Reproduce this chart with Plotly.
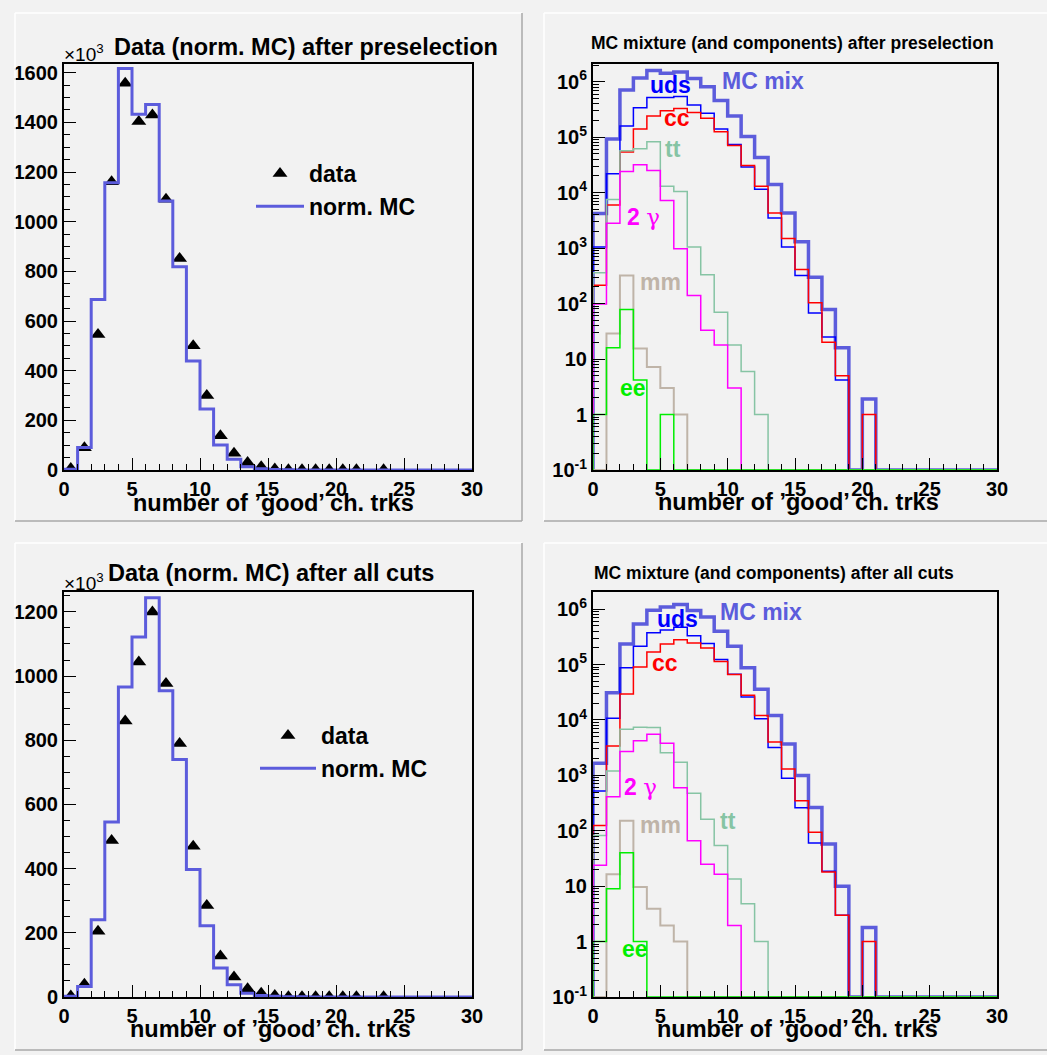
import plotly.graph_objects as go

W, H = 1047, 1055

# ---------------- data ----------------
edges = list(range(0, 31))
centers = [b + 0.5 for b in range(30)]
x_ticks = [0, 5, 10, 15, 20, 25, 30]

# top-left: data vs normalised MC after preselection (units of 10^3)
mc_pre = [3, 91, 687, 1157, 1617, 1433, 1472, 1083, 819, 439, 246, 101, 43, 13, 5,
          2, 1, 0.5, 0.3, 0.2, 0.1, 0.1, 0, 0, 0, 0, 0, 0, 0, 0]
data_pre = [6, 90, 546, 1161, 1557, 1403, 1430, 1090, 852, 500, 300, 138, 67, 30, 13,
            4, 1, 1, 1, 1, 1, 1, None, 1, None, None, None, None, None, None]

# bottom-left: after all cuts (units of 10^3)
mc_all = [2, 33, 241, 545, 966, 1122, 1244, 954, 740, 397, 222, 90, 38, 12, 5,
          2, 1, 0.5, 0.2, 0.1, 0, 0.1, 0, 0, 0, 0, 0, 0, 0, 0]
data_all = [3, 40, 205, 488, 860, 1044, 1200, 977, 790, 470, 285, 128, 62, 26, 12,
            5, 1, 1, 1, 1, 1, 1, None, 1, None, None, None, None, None, None]

# top-right: MC mixture and components after preselection
mix_pre = [4.2e3, 9.3e4, 7.1e5, 1.17e6, 1.6e6, 1.43e6, 1.5e6, 1.15e6, 8.1e5, 4.6e5,
           2.4e5, 1.03e5, 4.3e4, 1.4e4, 4.3e3, 1.3e3, 300, 78, 16, 0,
           1.9, 0, 0, 0, 0, 0, 0, 0, 0, 0]
uds_pre = [1.05e3, 2.2e4, 1.6e5, 3.4e5, 5.2e5, 5.2e5, 5.4e5, 3.8e5, 2.7e5, 1.4e5,
           7.4e4, 2.9e4, 1.15e4, 3.5e3, 1.05e3, 320, 68, 25, 4.2, 0,
           0, 0, 0, 0, 0, 0, 0, 0, 0, 0]
cc_pre = [215, 6e3, 5.4e4, 1.4e5, 2.4e5, 3e5, 3.3e5, 2.8e5, 2.2e5, 1.26e5,
          7.1e4, 3.1e4, 1.3e4, 4.3e3, 1.5e3, 410, 104, 20, 5, 0,
          1, 0, 0, 0, 0, 0, 0, 0, 0, 0]
tt_pre = [360, 7.5e3, 5.7e4, 6.2e4, 8.3e4, 1.3e4, 1.05e4, 1.05e3, 330, 70,
          18, 6, 1, 0, 0, 0, 0, 0, 0, 0, 0, 0, 0, 0, 0, 0, 0, 0, 0, 0]
gg_pre = [98, 2.8e3, 2.4e4, 3.2e4, 2.5e4, 7.2e3, 980, 140, 33, 18,
          3, 0, 0, 0, 0, 0, 0, 0, 0, 0, 0, 0, 0, 0, 0, 0, 0, 0, 0, 0]
mm_pre = [0, 29, 320, 15.5, 7.2, 3, 1, 0, 0, 0, 0, 0, 0, 0, 0,
          0, 0, 0, 0, 0, 0, 0, 0, 0, 0, 0, 0, 0, 0, 0]
ee_pre = [1, 16, 78, 4.2, 0, 1, 0, 0, 0, 0, 0, 0, 0, 0, 0,
          0, 0, 0, 0, 0, 0, 0, 0, 0, 0, 0, 0, 0, 0, 0]

# bottom-right: after all cuts
mix_all = [1.65e3, 3.1e4, 2.35e5, 5.4e5, 9.6e5, 1.1e6, 1.22e6, 9.5e5, 7.2e5, 4e5,
           2.15e5, 8.8e4, 3.6e4, 1.2e4, 3.7e3, 1e3, 262, 58, 10, 0,
           1.8, 0, 0, 0, 0, 0, 0, 0, 0, 0]
uds_all = [520, 1.08e4, 8.8e4, 2.15e5, 3.75e5, 4.2e5, 4.7e5, 3.3e5, 2.4e5, 1.24e5,
           6.7e4, 2.6e4, 1.05e4, 3.2e3, 890, 260, 60, 18.6, 3, 0,
           0, 0, 0, 0, 0, 0, 0, 0, 0, 0]
cc_all = [125, 3.4e3, 2.95e4, 9e4, 1.68e5, 2.35e5, 2.8e5, 2.45e5, 2e5, 1.14e5,
          6.6e4, 2.8e4, 1.2e4, 4e3, 1.3e3, 350, 94, 18, 3, 0,
          1, 0, 0, 0, 0, 0, 0, 0, 0, 0]
tt_all = [82, 1.2e3, 6.8e3, 7.4e3, 7.35e3, 2.55e3, 1.72e3, 475, 162, 54,
          13.5, 4.8, 1, 0, 0, 0, 0, 0, 0, 0, 0, 0, 0, 0, 0, 0, 0, 0, 0, 0]
gg_all = [24, 410, 2.7e3, 4.2e3, 5.5e3, 3.8e3, 600, 66, 25, 16.5,
          1.95, 0, 0, 0, 0, 0, 0, 0, 0, 0, 0, 0, 0, 0, 0, 0, 0, 0, 0, 0]
mm_all = [0, 16.5, 152, 9.7, 3.9, 1.95, 1, 0, 0, 0, 0, 0, 0, 0, 0,
          0, 0, 0, 0, 0, 0, 0, 0, 0, 0, 0, 0, 0, 0, 0]
ee_all = [1, 9, 40, 1, 0, 0, 0, 0, 0, 0, 0, 0, 0, 0, 0,
          0, 0, 0, 0, 0, 0, 0, 0, 0, 0, 0, 0, 0, 0, 0]

# ---------------- style ----------------
FONT = "Liberation Sans"
C_MIX = "#5c5cdc"
C_UDS = "#0000ff"
C_CC = "#ff0000"
C_TT = "#86c4a4"
C_GG = "#ff00ff"
C_MM = "#bfb4a8"
C_EE = "#00ee00"
BG = "#f2f2f2"


def px(x):
    return x / W


def py(y):
    return 1 - y / H


def hist_xy(values, floor):
    xs = [edges[0]] + edges
    ys = [floor] + [v if v > 0 else floor for v in values] + [floor]
    return xs, ys


fig = go.Figure()


def add_hist(values, color, width, xa, ya, floor, name=None, legend=None):
    xs, ys = hist_xy(values, floor)
    fig.add_trace(go.Scatter(
        x=xs, y=ys, mode="lines", line=dict(color=color, width=width, shape="hv"),
        xaxis=xa, yaxis=ya, name=name or "", showlegend=legend is not None,
        legend=legend or "legend", hoverinfo="skip"))


def add_data(values, xa, ya, legend):
    fig.add_trace(go.Scatter(
        x=centers, y=values, mode="markers",
        marker=dict(symbol="triangle-up", size=13, color="black"),
        xaxis=xa, yaxis=ya, name="data", showlegend=True, legend=legend,
        cliponaxis=True))


# left panels (linear)
add_data(data_pre, "x", "y", "legend")
add_hist(mc_pre, C_MIX, 3, "x", "y", 0, name="norm. MC", legend="legend")
add_data(data_all, "x3", "y3", "legend2")
add_hist(mc_all, C_MIX, 3, "x3", "y3", 0, name="norm. MC", legend="legend2")

# right panels (log)
LOGFLOOR = 0.1
for vals, col, wd in [(mix_pre, C_MIX, 3.5), (uds_pre, C_UDS, 1.5), (cc_pre, C_CC, 1.5),
                      (tt_pre, C_TT, 1.5), (gg_pre, C_GG, 1.5), (mm_pre, C_MM, 2),
                      (ee_pre, C_EE, 1.5)]:
    add_hist(vals, col, wd, "x2", "y2", LOGFLOOR)
for vals, col, wd in [(mix_all, C_MIX, 3.5), (uds_all, C_UDS, 1.5), (cc_all, C_CC, 1.5),
                      (tt_all, C_TT, 1.5), (gg_all, C_GG, 1.5), (mm_all, C_MM, 2),
                      (ee_all, C_EE, 1.5)]:
    add_hist(vals, col, wd, "x4", "y4", LOGFLOOR)

# ---------------- axes ----------------
tickfont = dict(family=FONT, size=20, color="black", weight="bold")


def xaxis(dom, anchor):
    return dict(domain=dom, anchor=anchor, range=[0, 30], tickmode="array",
                tickvals=x_ticks, ticks="inside", ticklen=12, tickwidth=1,
                tickcolor="black", automargin=False,
                minor=dict(dtick=1, tick0=0, ticks="inside", ticklen=6,
                           tickwidth=1, tickcolor="black", showgrid=False),
                showline=True, mirror=True, linecolor="black", linewidth=2,
                showgrid=False, zeroline=False, tickfont=tickfont)


def ylin(dom, anchor, top):
    return dict(domain=dom, anchor=anchor, range=[0, top], dtick=200, tick0=0,
                tickformat="d", ticks="inside", ticklen=12, tickwidth=1,
                tickcolor="black", automargin=False,
                minor=dict(dtick=50, tick0=0, ticks="inside", ticklen=6,
                           tickwidth=1, tickcolor="black", showgrid=False),
                showline=True, mirror=True, linecolor="black", linewidth=2,
                showgrid=False, zeroline=False, tickfont=tickfont)


log_major = [0.1, 1, 10, 1e2, 1e3, 1e4, 1e5, 1e6]
log_labels = ["10<sup>-1</sup>", "1", "10", "10<sup>2</sup>", "10<sup>3</sup>",
              "10<sup>4</sup>", "10<sup>5</sup>", "10<sup>6</sup>"]
log_minor = [m * 10 ** e for e in range(-1, 7) for m in range(2, 10) if m * 10 ** e < 2.1e6]


def ylog(dom, anchor, top):
    return dict(domain=dom, anchor=anchor, type="log", range=[-1, top],
                tickmode="array", tickvals=log_major, ticktext=log_labels,
                ticks="inside", ticklen=12, tickwidth=1, tickcolor="black",
                automargin=False,
                minor=dict(tickmode="array", tickvals=log_minor, ticks="inside",
                           ticklen=6, tickwidth=1, tickcolor="black", showgrid=False),
                showline=True, mirror=True, linecolor="black", linewidth=2,
                showgrid=False, zeroline=False,
                tickfont=dict(family=FONT, size=20, color="black", weight="bold"))


XL = [px(64), px(472)]
XR = [px(593), px(997)]
YT = [py(470), py(64)]
YB = [py(997), py(592)]

legfont = dict(family=FONT, size=23, color="black", weight="bold")
fig.update_layout(
    width=W, height=H, margin=dict(l=0, r=0, t=0, b=0, autoexpand=False),
    paper_bgcolor=BG, plot_bgcolor=BG,
    xaxis=xaxis(XL, "y"), yaxis=ylin(YT, "x", 1635),
    xaxis2=xaxis(XR, "y2"), yaxis2=ylog(YT, "x2", 6.32),
    xaxis3=xaxis(XL, "y3"), yaxis3=ylin(YB, "x3", 1262),
    xaxis4=xaxis(XR, "y4"), yaxis4=ylog(YB, "x4", 6.31),
    legend=dict(x=px(251), y=py(152), xanchor="left", yanchor="top",
                bgcolor="rgba(0,0,0,0)", font=legfont, itemwidth=48,
                itemsizing="trace", tracegroupgap=0),
    legend2=dict(x=px(255), y=py(714), xanchor="left", yanchor="top",
                 bgcolor="rgba(0,0,0,0)", font=legfont, itemwidth=56,
                 itemsizing="trace", tracegroupgap=0),
    showlegend=True,
)

# ---------------- pad bevels ----------------
pads = [(15, 13, 522, 521), (544, 13, 1052, 521), (15, 543, 522, 1050), (544, 543, 1052, 1050)]
shapes = []
for (x0, y0, x1, y1) in pads:
    shapes.append(dict(type="line", xref="paper", yref="paper", x0=px(x0), x1=px(x1),
                       y0=py(y0), y1=py(y0), line=dict(color="white", width=1.5)))
    shapes.append(dict(type="line", xref="paper", yref="paper", x0=px(x0), x1=px(x0),
                       y0=py(y0), y1=py(y1), line=dict(color="white", width=1.5)))
    shapes.append(dict(type="line", xref="paper", yref="paper", x0=px(x1), x1=px(x1),
                       y0=py(y0), y1=py(y1), line=dict(color="#a8a8a8", width=1.5)))
    shapes.append(dict(type="line", xref="paper", yref="paper", x0=px(x0), x1=px(x1),
                       y0=py(y1), y1=py(y1), line=dict(color="#a8a8a8", width=1.5)))
fig.update_layout(shapes=shapes)

# ---------------- texts ----------------
ann = []


def text(s, x, y, size, color="black", xanchor="left", bold=True):
    ann.append(dict(text=s, x=px(x), y=py(y), xref="paper", yref="paper",
                    xanchor=xanchor, yanchor="middle", showarrow=False,
                    font=dict(family=FONT, size=size, color=color,
                              weight="bold" if bold else "normal")))


text("Data (norm. MC) after preselection", 112, 47, 23.5)
text("Data (norm. MC) after all cuts", 106, 573, 23.5)
text("×10<sup>3</sup>", 62, 53, 19, bold=False)
text("×10<sup>3</sup>", 62, 582, 19, bold=False)
text("MC mixture (and components) after preselection", 589, 43, 17.5)
text("MC mixture (and components) after all cuts", 592, 573, 17.5)

xt = "number of ’good’ ch. trks"
text(xt, 273, 503, 23.5, xanchor="center")
text(xt, 270, 1029, 23.5, xanchor="center")
text(xt, 798, 502, 23.5, xanchor="center")
text(xt, 797, 1029, 23.5, xanchor="center")

GAMMA = "2 <span style='font-family:DejaVu Serif;font-weight:normal'>γ</span>"
for s, x, y, c in [("MC mix", 720, 81, C_MIX), ("uds", 648, 85, C_UDS), ("cc", 662, 118, C_CC),
                   ("tt", 663, 149, C_TT), (GAMMA, 625, 217, C_GG), ("mm", 638, 282, C_MM),
                   ("ee", 618, 388, C_EE)]:
    text(s, x, y, 23, color=c)
for s, x, y, c in [("MC mix", 718, 612, C_MIX), ("uds", 655, 619, C_UDS), ("cc", 650, 663, C_CC),
                   (GAMMA, 622, 787, C_GG), ("mm", 638, 825, C_MM), ("tt", 718, 821, C_TT),
                   ("ee", 620, 949, C_EE)]:
    text(s, x, y, 23, color=c)

fig.update_layout(annotations=ann)

fig.write_html("out.html", config={"displayModeBar": False},
               post_script="document.body.style.margin='0';"
                           "document.body.style.background='#f2f2f2';")
